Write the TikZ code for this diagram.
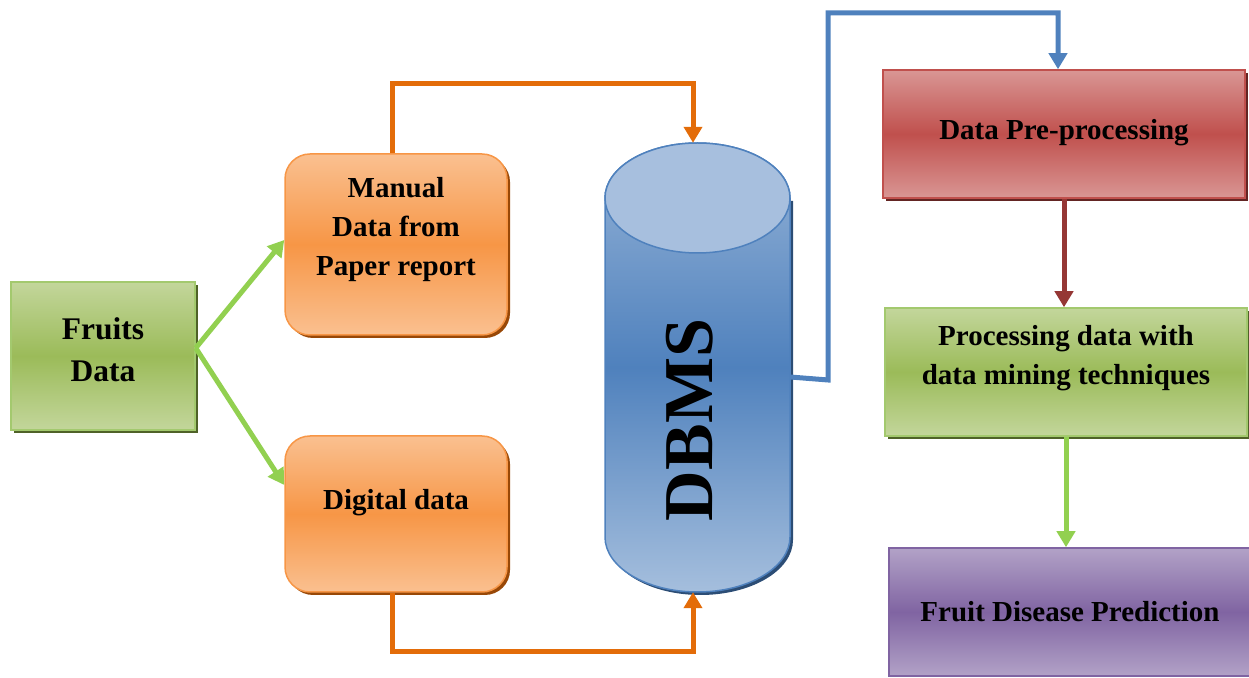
\documentclass[tikz,border=0pt]{standalone}
\usepackage{fontspec}
\setmainfont{Liberation Serif}
\usetikzlibrary{arrows.meta,shadows}

% accent palette
\definecolor{grnL}{HTML}{C3D69B}
\definecolor{grnM}{HTML}{9BBB59}
\definecolor{grnE}{HTML}{A3C96E}
\definecolor{grnS}{HTML}{4F6228}
\definecolor{orgL}{HTML}{FAC090}
\definecolor{orgM}{HTML}{F79646}
\definecolor{orgS}{HTML}{984807}
\definecolor{redL}{HTML}{D99694}
\definecolor{redM}{HTML}{C0504D}
\definecolor{redS}{HTML}{632523}
\definecolor{purL}{HTML}{B2A2C7}
\definecolor{purM}{HTML}{8064A2}
\definecolor{bluL}{HTML}{95B3D7}
\definecolor{bluM}{HTML}{4F81BD}
\definecolor{bluT}{HTML}{A7BFDE}
\definecolor{bluS}{HTML}{2C4D75}
\definecolor{lnGreen}{HTML}{92D050}
\definecolor{lnOrange}{HTML}{E36C09}
\definecolor{lnBlue}{HTML}{4F81BD}
\definecolor{lnRed}{HTML}{953735}

\tikzset{
  box/.style={line width=1.5pt, inner sep=0pt},
  shd/.style={drop shadow={shadow xshift=3pt, shadow yshift=-3pt, fill=#1, opacity=1}},
  greenbox/.style={box, draw=grnE, top color=grnL, bottom color=grnL, middle color=grnM, shd=grnS},
  orangebox/.style={box, draw=orgM, top color=orgL, bottom color=orgL, middle color=orgM, shd=orgS, rounded corners=25pt},
  redbox/.style={box, draw=redM, top color=redL, bottom color=redL, middle color=redM, shd=redS},
  purplebox/.style={box, draw=purM, top color=purL, bottom color=purL, middle color=purM},
  lbl/.style={font=\bfseries\fontsize{29}{39}\selectfont, align=center, inner sep=0pt},
  conn/.style={line width=5pt, -{Triangle[length=16pt,width=18pt]}},
}

\begin{document}
\begin{tikzpicture}[x=1pt,y=1pt]
\useasboundingbox (0,0) rectangle (1249,677);

% source boxes
\node[greenbox, minimum width=184pt, minimum height=148pt] (fruits) at (103,321) {};
\node[lbl, font=\bfseries\fontsize{31.5}{42}\selectfont] (fruits-t) at (103,327) {Fruits\\Data};

\node[orangebox, minimum width=222pt, minimum height=181pt] (manual) at (396,432.5) {};
\node[lbl] (manual-t) at (396,447) {Manual\\Data from\\Paper report};

\node[orangebox, minimum width=222pt, minimum height=156pt] (digital) at (396,163) {};
\node[lbl] (digital-t) at (396,174) {Digital data};

% database cylinder
\fill[bluS] (608,476) -- (608,137) arc[start angle=180, end angle=360, x radius=92.5, y radius=55]
  -- (793,476) -- cycle;
\path[draw=bluM, line width=1.5pt, top color=bluL, bottom color=bluL!85!white, middle color=bluM]
  (605,479) -- (605,140) arc[start angle=180, end angle=360, x radius=92.5, y radius=55]
  -- (790,479) arc[start angle=0, end angle=180, x radius=92.5, y radius=55] -- cycle;
\draw[bluM, line width=1.5pt, fill=bluT] (697.5,479) ellipse[x radius=92.5, y radius=55];
\node[minimum width=185pt, minimum height=449pt, inner sep=0pt] (db) at (697.5,309.5) {};
\node[font=\bfseries\fontsize{70}{70}\selectfont, rotate=90, inner sep=0pt] (db-t) at (690,257) {DBMS};

% processing chain
\node[redbox, minimum width=362pt, minimum height=128pt] (prep) at (1064,543) {};
\node[lbl] (prep-t) at (1064,544) {Data Pre-processing};

\node[greenbox, minimum width=362pt, minimum height=128pt] (proc) at (1066,305) {};
\node[lbl] (proc-t) at (1066,319) {Processing data with\\data mining techniques};

\node[purplebox, minimum width=362pt, minimum height=128pt] (pred) at (1070,65) {};
\node[lbl] (pred-t) at (1070,65) {Fruit Disease Prediction};

% connectors
\draw[conn, lnGreen] ([yshift=8pt]fruits.east) -- ([yshift=4.5pt]manual.west);
\draw[conn, lnGreen] ([yshift=8pt]fruits.east) -- ([yshift=29pt]digital.west);

\draw[conn, lnOrange] ([xshift=-4pt]manual.north) -- ++(0,70) -| ([xshift=-4.5pt]db.north);
\draw[conn, lnOrange] ([xshift=-4pt]digital.south) -- ++(0,-59) -| ([xshift=-4.5pt]db.south);

\draw[conn, lnBlue] ([yshift=-9.5pt]db.east) -- ++(38,-3) -- ++(0,367) -| ([xshift=-6pt]prep.north);

\draw[conn, lnRed] (prep.south) -- (prep.south |- proc.north);
\draw[conn, lnGreen] (proc.south) -- (proc.south |- pred.north);
\end{tikzpicture}
\end{document}
